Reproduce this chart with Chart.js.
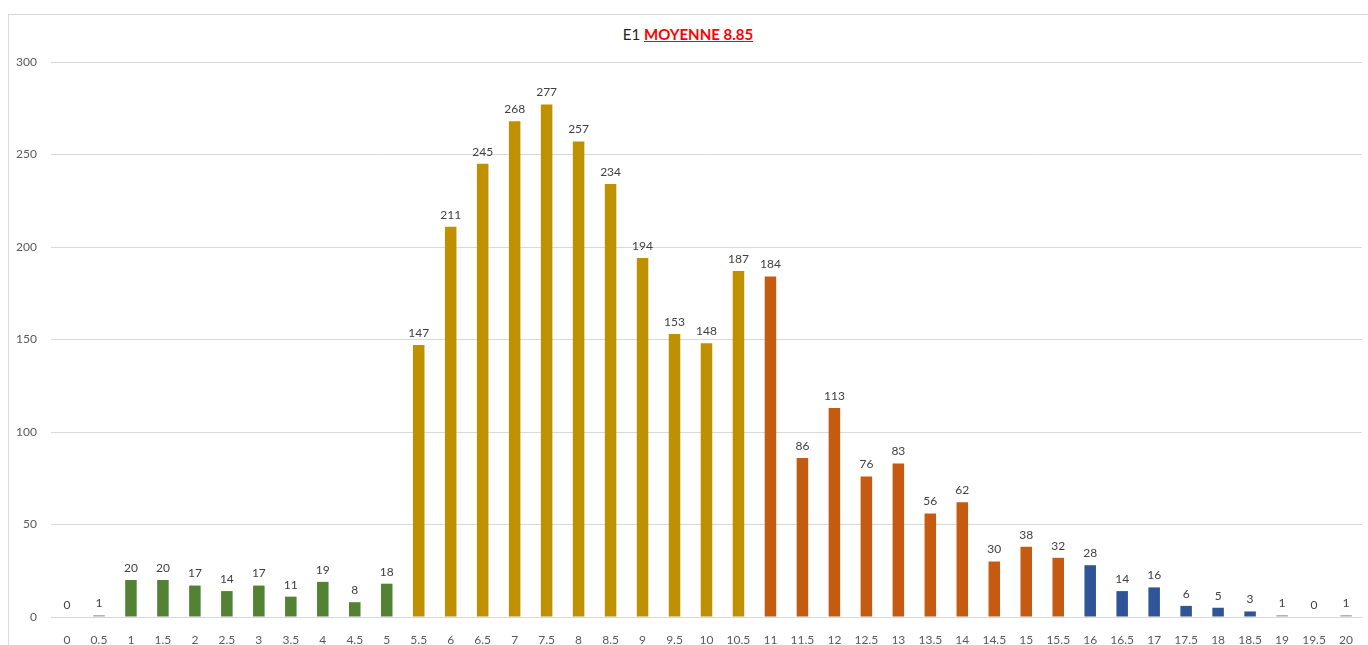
<!DOCTYPE html>
<html>
<head>
<meta charset="utf-8">
<script src="https://cdn.jsdelivr.net/npm/chart.js@4"></script>
<style>
  html, body { margin: 0; padding: 0; background: #fff; overflow: hidden; }
  #wrap { position: relative; width: 1368px; height: 645px; }
  #frame { position: absolute; left: 8px; top: 14px; width: 1400px; height: 700px;
           border-left: 1px solid #d9d9d9; border-top: 1px solid #d9d9d9; }
  #title { position: absolute; top: 25px; left: 0; width: 1376px; text-align: center;
           font-family: Lato, "Open Sans", sans-serif; font-size: 15px; color: #1f1f1f; }
  #title span { color: #ff0000; font-weight: bold; text-decoration: underline; }
  canvas { position: absolute; left: 0; top: 0; }
</style>
</head>
<body>
<div id="wrap">
  <div id="frame"></div>
  <div id="title">E1 <span>MOYENNE 8.85</span></div>
  <canvas id="notes" width="1368" height="645"></canvas>
</div>
<script>
// grades 0 -> 20 by half points
const grades = ["0","0.5","1","1.5","2","2.5","3","3.5","4","4.5","5","5.5","6","6.5","7","7.5","8","8.5","9","9.5","10","10.5",
  "11","11.5","12","12.5","13","13.5","14","14.5","15","15.5","16","16.5","17","17.5","18","18.5","19","19.5","20"];
// number of students per grade
const counts = [0,1,20,20,17,14,17,11,19,8,18,147,211,245,268,277,257,234,194,153,148,187,
  184,86,113,76,83,56,62,30,38,32,28,14,16,6,5,3,1,0,1];
// colour group per grade
const groups = ["grey","grey","green","green","green","green","green","green","green","green","green",
  "gold","gold","gold","gold","gold","gold","gold","gold","gold","gold","gold",
  "orange","orange","orange","orange","orange","orange","orange","orange","orange","orange",
  "blue","blue","blue","blue","blue","blue","grey","grey","grey"];
const yTicks = [0, 50, 100, 150, 200, 250, 300];

const palette = { grey: '#a5a5a5', green: '#548235', gold: '#bf9000', orange: '#c55a11', blue: '#2f5597' };

// values over each bar
const valueLabels = {
  id: 'valueLabels',
  afterDatasetsDraw(chart) {
    const ctx = chart.ctx;
    const meta = chart.getDatasetMeta(0);
    ctx.save();
    ctx.font = '12px Lato, "Open Sans", sans-serif';
    ctx.fillStyle = '#404040';
    ctx.textAlign = 'center';
    ctx.textBaseline = 'bottom';
    meta.data.forEach((bar, i) => {
      ctx.fillText(counts[i], bar.x, bar.y - 6);
    });
    ctx.restore();
  }
};

const notesChart = new Chart(document.getElementById('notes'), {
  type: 'bar',
  data: {
    labels: grades,
    datasets: [{
      data: counts,
      backgroundColor: groups.map(g => palette[g]),
      barPercentage: 0.36,
      categoryPercentage: 1
    }]
  },
  options: {
    responsive: false,
    animation: false,
    layout: { padding: { top: 62, right: 6, left: 0, bottom: 0 } },
    plugins: { legend: { display: false }, tooltip: { enabled: false } },
    scales: {
      x: {
        grid: { display: false },
        border: { color: '#d9d9d9' },
        ticks: { color: '#595959', font: { family: 'Lato, "Open Sans", sans-serif', size: 12 }, padding: 8, maxRotation: 0, autoSkip: false },
        afterFit: s => { s.height = 28; }
      },
      y: {
        min: 0, max: 300,
        afterBuildTicks: s => { s.ticks = yTicks.map(v => ({ value: v })); },
        grid: { color: '#d9d9d9', drawTicks: false },
        border: { display: false },
        ticks: { color: '#595959', font: { family: 'Lato, "Open Sans", sans-serif', size: 12 }, padding: 14 },
        afterFit: s => { s.width = 51; }
      }
    }
  },
  plugins: [valueLabels]
});
</script>
</body>
</html>
